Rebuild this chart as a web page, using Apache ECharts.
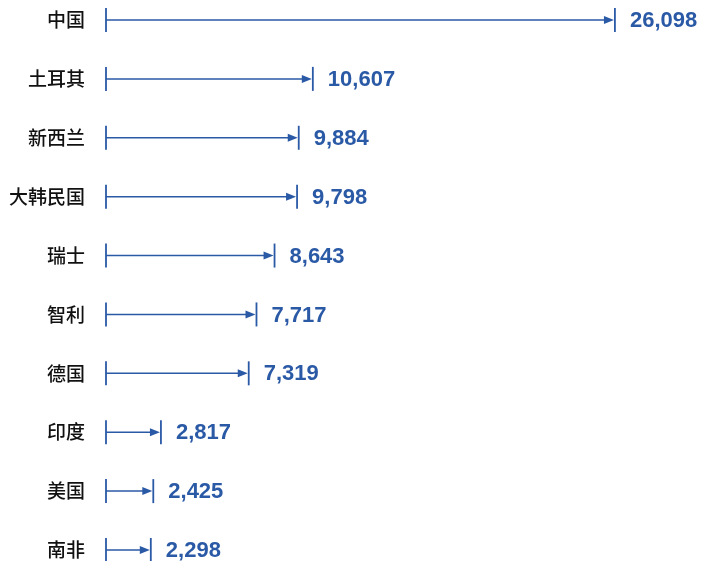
<!DOCTYPE html>
<html><head><meta charset="utf-8">
<script src="https://cdn.jsdelivr.net/npm/echarts@6/dist/echarts.min.js"></script>
<style>html,body{margin:0;padding:0;background:#fff}#c{width:704px;height:561px}</style>
</head><body><div id="c"></div>
<script>
const categories = ['中国','土耳其','新西兰','大韩民国','瑞士','智利','德国','印度','美国','南非'];
const values = [26098,10607,9884,9798,8643,7717,7319,2817,2425,2298];
const color = '#2a59a6';

const chart = echarts.init(document.getElementById('c'));
chart.setOption({
  animation:false,
  grid:{left:106,right:13,top:20,bottom:11},
  xAxis:{type:'value',min:0,max:30000,show:false},
  yAxis:{type:'category',data:categories,inverse:true,boundaryGap:false,
    axisLine:{show:false},axisTick:{show:false},splitLine:{show:false},
    axisLabel:{margin:21,fontSize:19,fontWeight:500,color:'#111',fontFamily:'Noto Sans CJK SC'}},
  series:[{
    type:'custom',
    data:values.map((v,i)=>[v,i]),
    renderItem:function(params,api){
      const s = api.coord([0,api.value(1)]);
      const e = api.coord([api.value(0),api.value(1)]);
      const y = s[1], x0=s[0], x1=e[0], h=12, al=10, aw=4;
      return {type:'group',children:[
        {type:'line',shape:{x1:x0,y1:y-h,x2:x0,y2:y+h},style:{stroke:color,lineWidth:1.8}},
        {type:'line',shape:{x1:x1,y1:y-h,x2:x1,y2:y+h},style:{stroke:color,lineWidth:1.8}},
        {type:'line',shape:{x1:x0,y1:y,x2:x1-al+1,y2:y},style:{stroke:color,lineWidth:1.5}},
        {type:'polygon',shape:{points:[[x1-1,y],[x1-al-1,y-aw],[x1-al-1,y+aw]]},style:{fill:color}},
        {type:'text',x:x1+15,y:y+1,style:{text:echarts.format.addCommas(api.value(0)),fill:color,
          font:'bold 22px "Liberation Sans", Arial, sans-serif',verticalAlign:'middle',align:'left'}}
      ]};
    }
  }]
});
</script></body></html>
